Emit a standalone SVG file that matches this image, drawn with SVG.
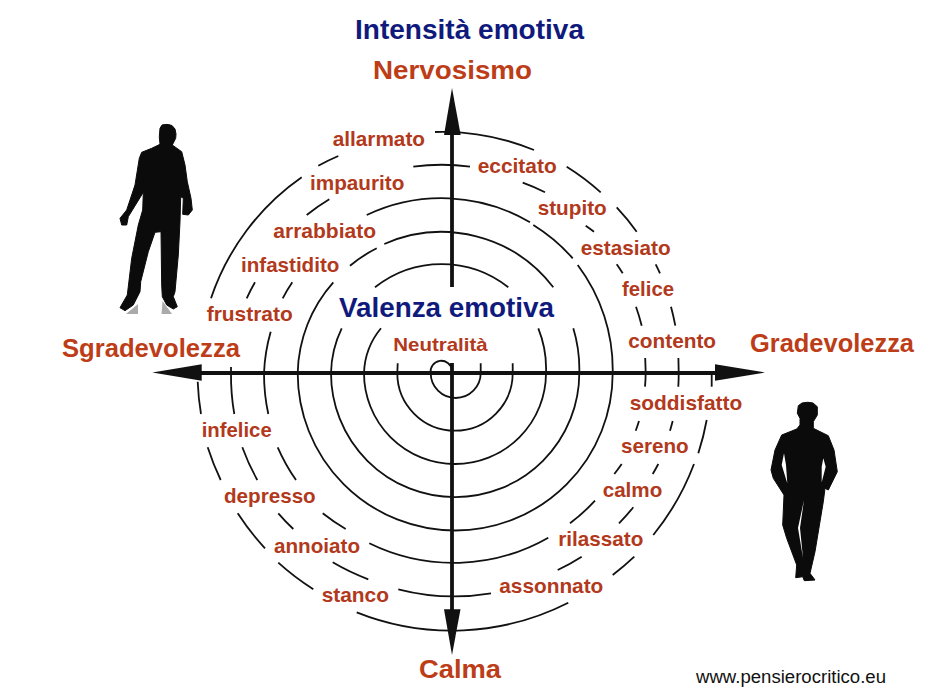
<svg xmlns="http://www.w3.org/2000/svg" width="926" height="695" viewBox="0 0 926 695">
<style>
text{font-family:"Liberation Sans",Arial,sans-serif;font-weight:bold}
.w{fill:#b2391b;font-size:20.5px}
.a{fill:#bc3d17;font-size:26.5px}
.v{fill:#0f1a7c;font-size:28px}
.u{fill:#111;font-size:17.5px;font-weight:normal}
.s{fill:none;stroke:#111;stroke-width:1.8}
.ax{fill:none;stroke:#111;stroke-width:3.8}
.h{fill:#111}
.sil{fill:#0b0b0b;stroke:#0b0b0b;stroke-width:1;stroke-linejoin:round}
</style>
<rect width="926" height="695" fill="#fff"/>
<g id="connectors">
<g id="spiral">
<path class="s" d="M452 370A10.6 10.6 0 0 0 430.7 373A25 25 0 0 0 480.7 373L480.7 363.3"/>
<path class="s" d="M397.7 363.3L397.3 373A57.7 57.7 0 0 0 512.7 373L512.7 363.3"/>
<path class="s" d="M381 328.3A74 74 0 0 0 364 373A91 91 0 0 0 546 373A107.5 107.5 0 0 0 538.3 328.3"/>
<path class="s" d="M341.7 328.3A107.5 107.5 0 0 0 331 373A124 124 0 0 0 579.3 373A141 141 0 0 0 573.3 328.3"/>
<path class="s" d="M333.3 282.3A141 141 0 0 0 297.7 373A157.5 157.5 0 0 0 612.7 373A174 174 0 0 0 577.7 265"/>
<path class="s" d="M375 287.3A107.5 107.5 0 0 1 508.3 287.3"/>
<path class="s" d="M384.3 244A141 141 0 0 1 553.3 287.3"/>
<path class="s" d="M350 265.7A141 141 0 0 1 376.7 248.3"/>
<path class="s" d="M366.7 215A174 174 0 0 1 530 222.3"/>
<path class="s" d="M533.3 225A174 174 0 0 1 572.7 258.3"/>
<path class="s" d="M264 373A174 174 0 0 1 270.7 331.7"/>
<path class="s" d="M282.7 298.3A174 174 0 0 1 292.3 282.3"/>
<path class="s" d="M231 367L231 373"/>
<path class="s" d="M246.7 298.3A207.4 207.4 0 0 1 255 282.3"/>
<path class="s" d="M306.7 215A207.4 207.4 0 0 1 329.3 199.3"/>
<path class="s" d="M413.3 166.7A207.4 207.4 0 0 1 470 166.7"/>
<path class="s" d="M522.7 182.7A207.4 207.4 0 0 1 545 192.3"/>
<path class="s" d="M585.7 225.7A207.4 207.4 0 0 1 594 231.7"/>
<path class="s" d="M616.7 264.3A207.4 207.4 0 0 1 622.7 273.3"/>
<path class="s" d="M636 306.7A207.4 207.4 0 0 1 641.7 325.7"/>
<path class="s" d="M645.2 358L645.7 373A191 191 0 0 1 645 386.7"/>
<path class="s" d="M211 298.3A241 241 0 0 1 301.7 177.3"/>
<path class="s" d="M318.3 165.7A241 241 0 0 1 338.3 156"/>
<path class="s" d="M435 132A241 241 0 0 1 534 150"/>
<path class="s" d="M566.7 166.7A241 241 0 0 1 600.7 192.3"/>
<path class="s" d="M616.7 207.3A241 241 0 0 1 636.7 231.7"/>
<path class="s" d="M655.7 264.3A241 241 0 0 1 660 273.3"/>
<path class="s" d="M671 306.7A241 241 0 0 1 675.3 325.7"/>
<path class="s" d="M678.4 358L678.7 373A224 224 0 0 1 678.3 386.7"/>
<path class="s" d="M711.7 373L711.7 386.7"/>
<path class="s" d="M706.7 420A257 257 0 0 1 698.3 453.3"/>
<path class="s" d="M694 464A257 257 0 0 1 653.3 535"/>
<path class="s" d="M634.3 556.7A257 257 0 0 1 612.7 575"/>
<path class="s" d="M568.3 602.7A257 257 0 0 1 356.7 612.3"/>
<path class="s" d="M313.3 589.3A257 257 0 0 1 278.3 562.7"/>
<path class="s" d="M265 548.3A257 257 0 0 1 237.7 513.3"/>
<path class="s" d="M220.7 480A257 257 0 0 1 207.7 447.3"/>
<path class="s" d="M201 414A257 257 0 0 1 197.7 381.7"/>
<path class="s" d="M672.7 421A224 224 0 0 1 670 430.7"/>
<path class="s" d="M658.3 464A224 224 0 0 1 652.7 474"/>
<path class="s" d="M633.3 507.3A224 224 0 0 1 619 523.3"/>
<path class="s" d="M581.7 556.7A224 224 0 0 1 557.7 570"/>
<path class="s" d="M491 593.3A224 224 0 0 1 398.3 589.3"/>
<path class="s" d="M368.3 579.3A224 224 0 0 1 332.7 562.3"/>
<path class="s" d="M293.3 529A224 224 0 0 1 278.3 513.3"/>
<path class="s" d="M257.3 480A224 224 0 0 1 242.3 447.3"/>
<path class="s" d="M234.3 414A224 224 0 0 1 231 373"/>
<path class="s" d="M639 421A191 191 0 0 1 635.7 430.7"/>
<path class="s" d="M621.7 464A191 191 0 0 1 614.3 474"/>
<path class="s" d="M595 500.7A191 191 0 0 1 570 523.3"/>
<path class="s" d="M548.3 537.7A191 191 0 0 1 369.3 543.3"/>
<path class="s" d="M345.7 529A191 191 0 0 1 322.7 513.3"/>
<path class="s" d="M296 480A191 191 0 0 1 277.7 447.3"/>
<path class="s" d="M268.3 414A191 191 0 0 1 264 373"/>
</g>
<g id="axes">
<path class="ax" d="M195 373H720M452 130V287M452 363V615"/>
<path class="h" d="M152.3 372.5L201.7 364.3V380.7Z"/>
<path class="h" d="M765 372.5L715 364.3V380.7Z"/>
<path class="h" d="M452 88L444 135H460.7Z"/>
<path class="h" d="M452 655L444 609.3H460.5Z"/>
</g>
</g>
<g id="figure-left">
<path fill="#aaa" d="M162.5 301L172 314H161.5ZM138 304L138 314H126Z"/>
<path class="sil" d="M162 125Q167 123.5 172 125.5L175 129L176 134L175.7 138.3L172.3 145L181.7 151.7L185 165L187.3 181.7L191 198.3L192.3 210L188.3 215L182.7 214.3L183.3 198.3L180.7 196.7L180 221.7L178.3 255L175 291.7L173.3 296.7L177.3 306.7L173.3 309L166.7 305L162.3 296.7L161.7 285L161 231.7L155 232.3L148.3 251.7L140.7 281.7L140 291.7L133.3 305L125 310.7L120 307.7L127.3 295L131.7 258.3L138.3 225L142.7 210L143.3 192.3L128.3 216.7L126.7 225L121.7 225L120 218.3L126.7 210L135 185L139.3 158.3L141.7 152.3L151.7 148.3L160 144.3L159.3 136.7L160 128.3Z"/>
</g>
<g id="figure-right">
<path class="sil" d="M802 403Q808 401.5 813 403L817.3 406.7L817.3 415L813.3 421.7L813.3 428.3L828.3 435.7L834 450L837.3 471.7L828.3 490L825 488.3L823.3 501.7L815 551.7L810 573.3L815 580L804.3 580.7L802.7 576.7L795.7 577.7L796.7 565L786.7 538.3L782.7 525L784 495L773.3 478.3L771 470L775 450L781.7 435L796.7 429L800 425L800 418.3L797.3 413.3L798.3 405.7Z"/>
<path fill="#fff" d="M784 453.3L781.7 465L787.3 483.3L786 465ZM823.3 458.3L825.7 466.7L821.7 482.3L821.7 466.7ZM804 500L798 528L803 558L800 528Z"/>
</g>
<g id="titles">
<text class="v" x="355" y="39" textLength="229" lengthAdjust="spacingAndGlyphs">Intensità emotiva</text>
<text class="v" x="339" y="317" textLength="215" lengthAdjust="spacingAndGlyphs">Valenza emotiva</text>
<text class="a" x="373" y="79" textLength="159" lengthAdjust="spacingAndGlyphs">Nervosismo</text>
<text class="a" x="62" y="357" textLength="178" lengthAdjust="spacingAndGlyphs">Sgradevolezza</text>
<text class="a" x="750" y="352" textLength="164" lengthAdjust="spacingAndGlyphs">Gradevolezza</text>
<text class="a" x="419" y="678" textLength="82" lengthAdjust="spacingAndGlyphs">Calma</text>
</g>
<g id="labels">
<text class="w" x="393.3" y="351" style="font-size:19px" textLength="94.4" lengthAdjust="spacingAndGlyphs">Neutralità</text>
<text class="w" x="332.7" y="145.7" textLength="92.3" lengthAdjust="spacingAndGlyphs">allarmato</text>
<text class="w" x="310" y="190" textLength="94.3" lengthAdjust="spacingAndGlyphs">impaurito</text>
<text class="w" x="273.3" y="238.3" textLength="102.7" lengthAdjust="spacingAndGlyphs">arrabbiato</text>
<text class="w" x="241" y="271.7" textLength="98.3" lengthAdjust="spacingAndGlyphs">infastidito</text>
<text class="w" x="206.7" y="321" textLength="86" lengthAdjust="spacingAndGlyphs">frustrato</text>
<text class="w" x="477.7" y="172.7" textLength="79" lengthAdjust="spacingAndGlyphs">eccitato</text>
<text class="w" x="537.7" y="215" textLength="69" lengthAdjust="spacingAndGlyphs">stupito</text>
<text class="w" x="580.7" y="255" textLength="90" lengthAdjust="spacingAndGlyphs">estasiato</text>
<text class="w" x="622" y="296" textLength="52" lengthAdjust="spacingAndGlyphs">felice</text>
<text class="w" x="628.3" y="347.7" textLength="87.7" lengthAdjust="spacingAndGlyphs">contento</text>
<text class="w" x="629.7" y="410" textLength="112.6" lengthAdjust="spacingAndGlyphs">soddisfatto</text>
<text class="w" x="621" y="453.3" textLength="67.7" lengthAdjust="spacingAndGlyphs">sereno</text>
<text class="w" x="602.7" y="496.7" textLength="59.6" lengthAdjust="spacingAndGlyphs">calmo</text>
<text class="w" x="558.3" y="545.7" textLength="85" lengthAdjust="spacingAndGlyphs">rilassato</text>
<text class="w" x="499.3" y="592.7" textLength="104" lengthAdjust="spacingAndGlyphs">assonnato</text>
<text class="w" x="201.7" y="437.3" textLength="70" lengthAdjust="spacingAndGlyphs">infelice</text>
<text class="w" x="224" y="502.7" textLength="91.7" lengthAdjust="spacingAndGlyphs">depresso</text>
<text class="w" x="274" y="552.7" textLength="86" lengthAdjust="spacingAndGlyphs">annoiato</text>
<text class="w" x="321.7" y="601.7" textLength="67.3" lengthAdjust="spacingAndGlyphs">stanco</text>
</g>
<text class="u" x="696" y="683" textLength="190" lengthAdjust="spacingAndGlyphs">www.pensierocritico.eu</text>
</svg>
